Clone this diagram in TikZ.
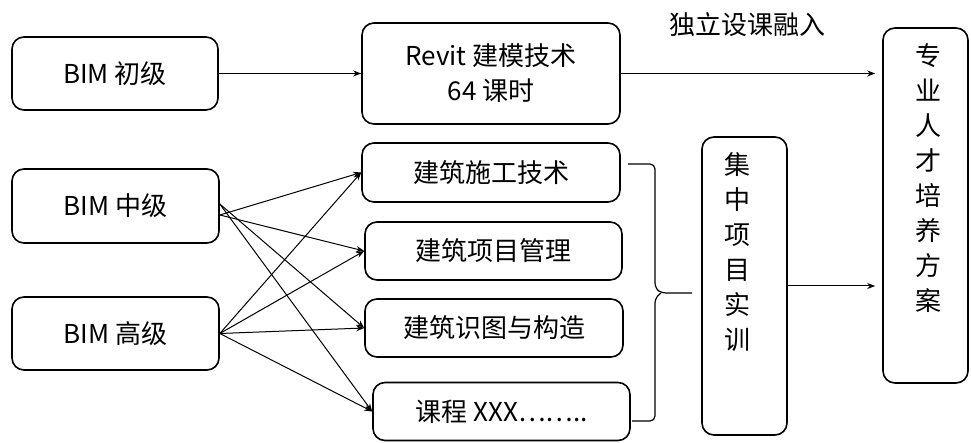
\documentclass[tikz,border=0pt]{standalone}
\usepackage{fontspec}
\setmainfont{Noto Sans CJK SC}
\usetikzlibrary{arrows.meta}

\begin{document}
\begin{tikzpicture}[x=1pt,y=-1pt,
  font=\fontsize{26}{35}\selectfont,
  box/.style={draw,line width=1.6pt,rounded corners=12pt,align=center,inner sep=0pt},
  arr/.style={-{Stealth[length=8pt,width=6pt]},line width=1pt}]
\useasboundingbox (0,0) rectangle (971,443);

% levels
\node[box,minimum width=206pt,minimum height=73pt] (cj) at (115,73.5) {BIM 初级};
\node[box,minimum width=207pt,minimum height=74pt] (zj) at (115.5,206) {BIM 中级};
\node[box,minimum width=207pt,minimum height=73pt] (gj) at (115.5,333.5) {BIM 高级};

% courses
\node[box,minimum width=258pt,minimum height=101pt] (revit) at (491,73.5) {Revit 建模技术\\64 课时};
\node[box,minimum width=258pt,minimum height=59pt] (sg) at (491,172.5) {建筑施工技术};
\node[box,minimum width=257pt,minimum height=58pt] (xm) at (493.5,251) {建筑项目管理};
\node[box,minimum width=258pt,minimum height=58pt] (st) at (494,328) {建筑识图与构造};
\node[box,minimum width=257pt,minimum height=58pt] (kc) at (501.5,411.5) {课程 XXX……..};

% right column
\node[box,minimum width=85pt,minimum height=298pt] (jz) at (744.5,286) {};
\node[align=center] (jzt) at (737,252) {集\\中\\项\\目\\实\\训};
\node[box,minimum width=85pt,minimum height=355pt] (zy) at (925.5,205.5) {};
\node[align=center] (zyt) at (928,178) {专\\业\\人\\才\\培\\养\\方\\案};
\node (dl) at (747,25) {独立设课融入};

\draw[arr] (cj) -- (revit);
\draw[arr,shorten >=7pt] (revit.east) -- (revit.east -| zy.west);
\draw[arr,shorten >=7pt] (jz.east) -- (jz.east -| zy.west);

\foreach \t in {sg,xm}
  \draw[arr] ([yshift=-9pt]zj.east) -- (\t.west);
\foreach \t in {st,kc}
  \draw[arr] ([yshift=2pt]zj.east) -- (\t.west);
\foreach \t in {sg,xm,st,kc}
  \draw[arr] (gj.east) -- (\t.west);

% bracket
\coordinate (tip) at (692,293);
\draw[line width=1.2pt,rounded corners=5pt] (628,164) -- (655,164) -- (655,288) -- (661,293) -- (tip);
\draw[line width=1.2pt,rounded corners=5pt] (661,293) -- (655,298) -- (655,421) -- (632,421);
\end{tikzpicture}
\end{document}
